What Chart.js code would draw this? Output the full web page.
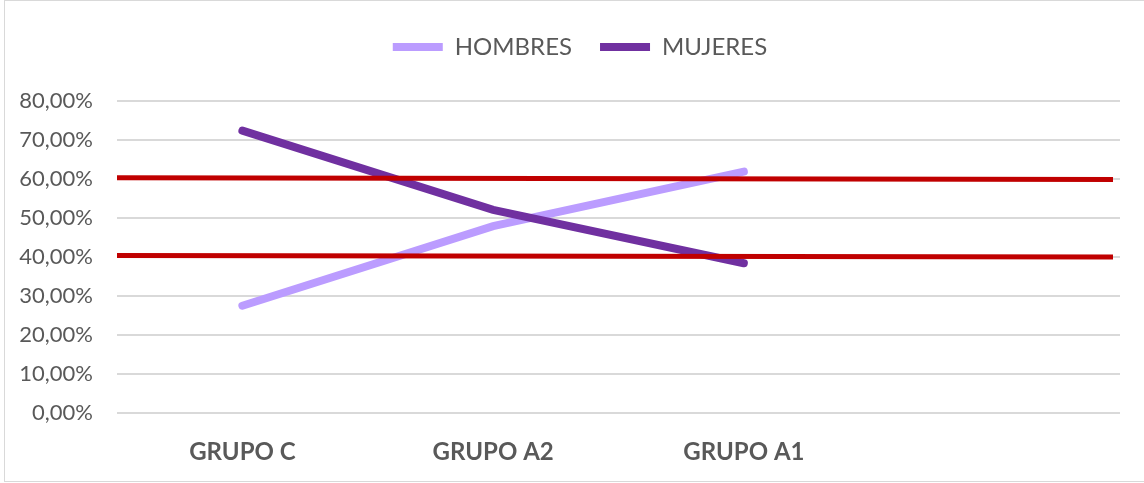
<!DOCTYPE html>
<html>
<head>
<meta charset="utf-8">
<script src="https://cdn.jsdelivr.net/npm/chart.js@4"></script>
<style>
    html, body { margin: 0; padding: 0; background: #fff; }
    .wrap { position: relative; width: 1144px; height: 483px; }
    .frame { position: absolute; left: 4px; top: 0; width: 1200px; height: 482px; border: 1px solid #d9d9d9; box-sizing: border-box; }
    canvas { position: absolute; left: 0; top: 0; }
</style>
</head>
<body>
<div class="wrap">
    <div class="frame"></div>
    <canvas id="chart" width="1144" height="483"></canvas>
</div>
<script>
// Datos del grafico
const categorias = ['GRUPO C', 'GRUPO A2', 'GRUPO A1', ''];
const hombres = [27.5, 47.9, 61.9, null];
const mujeres = [72.4, 52.1, 38.4, null];
// lineas rojas de referencia (inicio, fin)
const limiteAlto = [60.35, 59.9];
const limiteBajo = [40.4, 40.0];
const ticksY = [0, 10, 20, 30, 40, 50, 60, 70, 80];

const GRIS = '#595959';
const FUENTE = 'Lato';

const formatoPct = (v) => v.toFixed(2).replace('.', ',') + '%';

// alto de la leyenda y un poco de desplazamiento a la derecha
const legendSpace = {
    id: 'legendSpace',
    beforeInit(chart) {
        const fit = chart.legend.fit;
        chart.legend.fit = function () {
            fit.bind(chart.legend)();
            this.height = 94;
        };
    },
    afterLayout(chart) {
        chart.legend.left += 20;
        chart.legend.right += 20;
    }
};

const ctx = document.getElementById('chart').getContext('2d');
new Chart(ctx, {
    type: 'line',
    data: {
        labels: categorias,
        datasets: [
            {
                label: 'HOMBRES',
                data: hombres,
                borderColor: '#BB9CFF',
                backgroundColor: '#BB9CFF',
                borderWidth: 8,
                borderCapStyle: 'round',
                pointRadius: 0,
                order: 2
            },
            {
                label: 'MUJERES',
                data: mujeres,
                borderColor: '#7030A0',
                backgroundColor: '#7030A0',
                borderWidth: 8,
                borderCapStyle: 'round',
                pointRadius: 0,
                order: 1
            },
            {
                label: 'alto',
                data: [{ x: 0, y: limiteAlto[0] }, { x: 1, y: limiteAlto[1] }],
                xAxisID: 'x2',
                borderColor: '#C00000',
                borderWidth: 5,
                pointRadius: 0,
                order: 0
            },
            {
                label: 'bajo',
                data: [{ x: 0, y: limiteBajo[0] }, { x: 1, y: limiteBajo[1] }],
                xAxisID: 'x2',
                borderColor: '#C00000',
                borderWidth: 5,
                pointRadius: 0,
                order: 0
            }
        ]
    },
    options: {
        responsive: false,
        animation: false,
        layout: { padding: { top: 7, right: 24, bottom: 0, left: 0 } },
        plugins: {
            legend: {
                position: 'top',
                labels: {
                    filter: (item) => item.datasetIndex < 2,
                    sort: (a, b) => a.datasetIndex - b.datasetIndex,
                    boxWidth: 50,
                    boxHeight: 0,
                    padding: 28,
                    color: GRIS,
                    font: { family: FUENTE, size: 24 }
                }
            },
            tooltip: { enabled: false }
        },
        scales: {
            x: {
                offset: true,
                grid: { display: false },
                border: { display: false },
                ticks: {
                    color: GRIS,
                    padding: 17,
                    font: { family: FUENTE, size: 24, weight: 'bold' }
                },
                afterFit: (scale) => { scale.height = 70; }
            },
            x2: {
                type: 'linear',
                display: false,
                min: 0,
                max: 1.007
            },
            y: {
                min: 0,
                max: 80,
                afterBuildTicks: (scale) => { scale.ticks = ticksY.map(v => ({ value: v })); },
                grid: { color: '#d9d9d9', lineWidth: 2, drawTicks: false },
                border: { display: false },
                ticks: {
                    color: GRIS,
                    padding: 24,
                    font: { family: FUENTE, size: 22 },
                    callback: (v) => formatoPct(v)
                },
                afterFit: (scale) => { scale.width = 117; }
            }
        }
    },
    plugins: [legendSpace]
});
</script>
</body>
</html>
